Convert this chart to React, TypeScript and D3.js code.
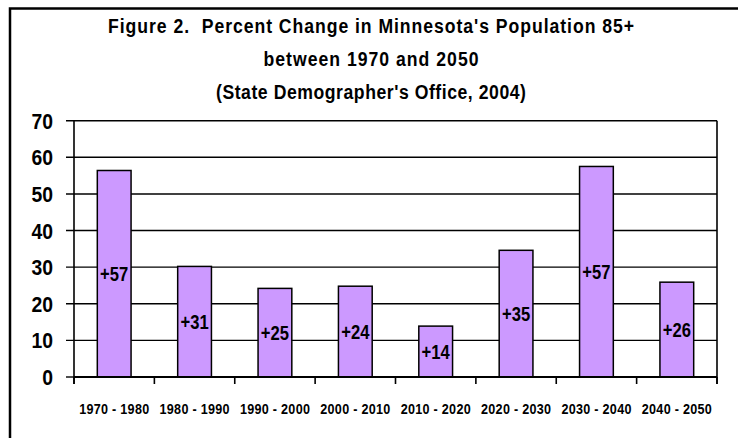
import React from 'react';
import * as d3 from 'd3';

const categories = ['1970 - 1980', '1980 - 1990', '1990 - 2000', '2000 - 2010', '2010 - 2020', '2020 - 2030', '2030 - 2040', '2040 - 2050'];
const barValues = [56.4, 30.2, 24.2, 24.8, 13.9, 34.6, 57.5, 25.9];
const barLabels = ['+57', '+31', '+25', '+24', '+14', '+35', '+57', '+26'];
const yTicks = [0, 10, 20, 30, 40, 50, 60, 70];
const titleLines = [
  "Figure 2.  Percent Change in Minnesota's Population 85+",
  'between 1970 and 2050',
  "(State Demographer's Office, 2004)",
];
const titleWidths = [526, 215, 310];

const W = 738;
const H = 438;
const left = 74;
const right = 717;
const top = 120.7;
const bottom = 377;
const FONT = '"Liberation Sans", Arial, sans-serif';

// narrow text: Arial squeezed horizontally, like Arial Narrow
const Txt = ({ x, y, sx, size, anchor = 'middle', weight = 'bold', len, children }: any) => (
  <g transform={`translate(${x},${y}) scale(${sx},1)`}>
    <text
      textAnchor={anchor}
      fontFamily={FONT}
      fontSize={size}
      fontWeight={weight}
      fill="#000"
      style={{ whiteSpace: 'pre' }}
      {...(len ? { textLength: len / sx, lengthAdjust: 'spacing' } : {})}
    >
      {children}
    </text>
  </g>
);

export default function App() {
  const x = d3.scaleBand().domain(categories).range([left, right]).paddingInner(0.58).paddingOuter(0.29);
  const y = d3.scaleLinear().domain([0, 70]).range([bottom, top]);
  const step = x.step();

  return (
    <svg width={W} height={H} style={{ position: 'absolute', left: 0, top: 0, background: '#fff' }}>
      <rect x={10} y={8.5} width={800} height={500} fill="#fff" stroke="#000" strokeWidth={2.5} />

      {titleLines.map((t, i) => (
        <Txt key={t} x={371} y={[33, 66, 99][i]} sx={0.84} size={21} len={titleWidths[i]}>{t}</Txt>
      ))}

      {/* gridlines + y ticks */}
      {yTicks.map(v => (
        <g key={v}>
          <line x1={left - 8} x2={v === 0 ? left : right} y1={y(v)} y2={y(v)} stroke="#000" strokeWidth={1.4} />
          <Txt x={53} y={y(v) + 8} sx={0.86} size={22.5} anchor="end">{v}</Txt>
        </g>
      ))}

      {/* bars */}
      {categories.map((c, i) => {
        const bx = x(c)!;
        const by = y(barValues[i]);
        return (
          <g key={c}>
            <rect x={bx} y={by} width={x.bandwidth()} height={bottom - by} fill="#CC99FF" stroke="#000" strokeWidth={1.5} />
            <Txt x={bx + x.bandwidth() / 2} y={(by + bottom) / 2 + 7} sx={0.83} size={20}>{barLabels[i]}</Txt>
            <Txt x={bx + x.bandwidth() / 2} y={414} sx={0.84} size={15} len={70}>{c}</Txt>
          </g>
        );
      })}

      {/* axes */}
      <line x1={left} x2={left} y1={top} y2={bottom + 7} stroke="#000" strokeWidth={1.6} />
      <line x1={right} x2={right} y1={top} y2={bottom + 7} stroke="#000" strokeWidth={1.6} />
      <line x1={left} x2={right} y1={bottom} y2={bottom} stroke="#000" strokeWidth={2} />
      {d3.range(categories.length + 1).map(i => (
        <line key={i} x1={left + i * step} x2={left + i * step} y1={bottom} y2={bottom + 7} stroke="#000" strokeWidth={1.6} />
      ))}
    </svg>
  );
}
